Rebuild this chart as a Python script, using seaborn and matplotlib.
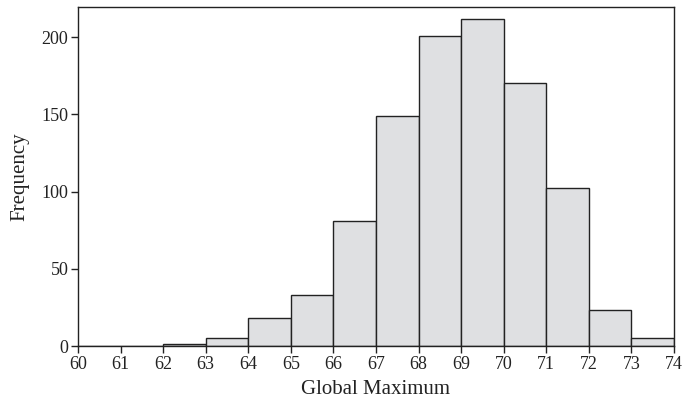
import numpy as np
import pandas as pd
import seaborn as sns
import matplotlib.pyplot as plt

# bin edges and counts
bin_edges = list(range(60, 75))
bin_lefts = list(range(60, 74))
counts = [0, 0, 1, 5, 18, 33, 81, 149, 201, 212, 170, 102, 23, 5]

df = pd.DataFrame({"value": [b + 0.5 for b in bin_lefts], "count": counts})

sns.set_style("ticks")
plt.rcParams["font.family"] = ["Liberation Serif", "DejaVu Serif"]

fig = plt.figure(figsize=(6.83, 4.03), dpi=100)
ax = fig.add_axes([0.1142, 0.1414, 0.8726, 0.8412])

sns.histplot(data=df, x="value", weights="count", bins=bin_edges,
             color="#dfe0e2", edgecolor="#222222", linewidth=1.0, alpha=1.0, ax=ax)

ax.set_xlim(60, 74)
ax.set_ylim(0, 219.5)
ax.set_xticks(bin_edges)
ax.set_yticks([0, 50, 100, 150, 200])
ax.tick_params(axis="both", direction="out", length=5, width=1, labelsize=13,
               colors="#222222", pad=2)
for s in ax.spines.values():
    s.set_visible(True)
    s.set_linewidth(1.0)
    s.set_color("#222222")
ax.set_xlabel("Global Maximum", fontsize=15, color="#222222", labelpad=5)
ax.set_ylabel("Frequency", fontsize=15, color="#222222")
ax.yaxis.set_label_coords(-0.082, 0.5)

fig.savefig("out.png", dpi=100)
